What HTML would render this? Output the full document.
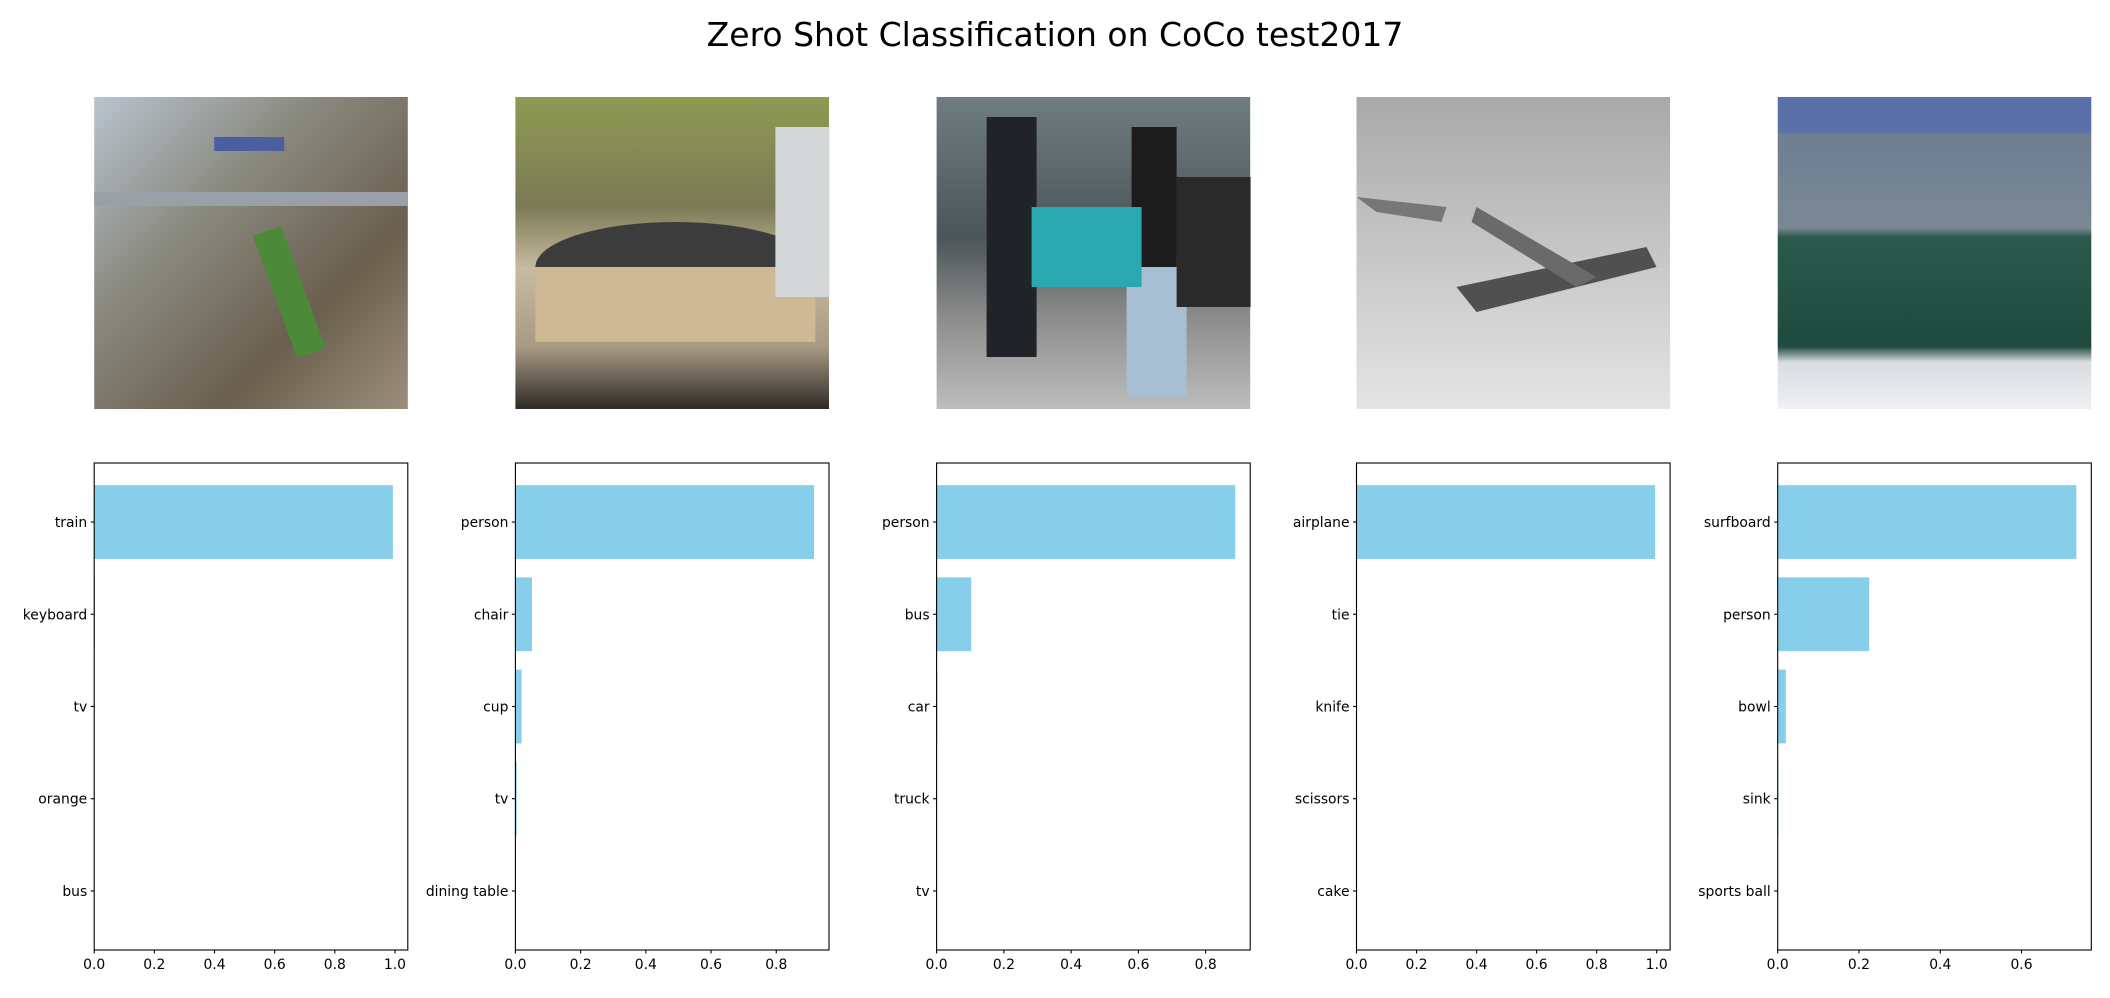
<!DOCTYPE html>
<html><head><meta charset="utf-8"><style>
body{margin:0;background:#fff;}
svg{display:block;font-family:"DejaVu Sans","Liberation Sans",sans-serif;}
</style></head><body>
<svg id="fig" width="2110" height="998" viewBox="0 0 2110 998" xmlns="http://www.w3.org/2000/svg">
<defs>
<linearGradient id="g1" x1="0" y1="0" x2="1" y2="1"><stop offset="0" stop-color="#b9c4cf"/><stop offset="0.35" stop-color="#8a8a80"/><stop offset="0.7" stop-color="#6b5f4e"/><stop offset="1" stop-color="#9b8f7c"/></linearGradient>
<linearGradient id="g2" x1="0" y1="0" x2="0" y2="1"><stop offset="0" stop-color="#8e9a52"/><stop offset="0.35" stop-color="#7b7a55"/><stop offset="0.55" stop-color="#c8bba0"/><stop offset="0.8" stop-color="#a89a82"/><stop offset="1" stop-color="#2e2a28"/></linearGradient>
<linearGradient id="g3" x1="0" y1="0" x2="0" y2="1"><stop offset="0" stop-color="#6f7d80"/><stop offset="0.45" stop-color="#4c5558"/><stop offset="0.7" stop-color="#8b8b8b"/><stop offset="1" stop-color="#bdbdbd"/></linearGradient>
<linearGradient id="g4" x1="0" y1="0" x2="0" y2="1"><stop offset="0" stop-color="#a9a9a9"/><stop offset="1" stop-color="#e4e4e4"/></linearGradient>
<linearGradient id="g5" x1="0" y1="0" x2="0" y2="1"><stop offset="0" stop-color="#5b6fa8"/><stop offset="0.11" stop-color="#5b6fa8"/><stop offset="0.12" stop-color="#6e7f92"/><stop offset="0.42" stop-color="#7a8894"/><stop offset="0.45" stop-color="#2a5a4c"/><stop offset="0.8" stop-color="#1f4a3e"/><stop offset="0.85" stop-color="#d9dde2"/><stop offset="1" stop-color="#eef0f3"/></linearGradient>
</defs>
<text x="1055" y="46" text-anchor="middle" font-size="33" fill="#000">Zero Shot Classification on CoCo test2017</text>
<g id="imgs"></g>
<g id="charts"></g>
</svg>
<script>
const labels1=["train","keyboard","tv","orange","bus"];
const values1=[0.993,0.002,0.001,0.001,0.001];
const labels2=["person","chair","cup","tv","dining table"];
const values2=[0.916,0.051,0.019,0.004,0.001];
const labels3=["person","bus","car","truck","tv"];
const values3=[0.888,0.103,0.002,0.001,0.001];
const labels4=["airplane","tie","knife","scissors","cake"];
const values4=[0.995,0.001,0.001,0.001,0.001];
const labels5=["surfboard","person","bowl","sink","sports ball"];
const values5=[0.735,0.225,0.020,0.002,0.001];
const tickStep=0.2;

const NS="http://www.w3.org/2000/svg";
const lefts=[94.2,515.4,936.6,1356.5,1777.7];
const W=313.6, TOP=463, BOT=950, ITOP=97, IBOT=409;
function mk(tag,attrs,parent){const e=document.createElementNS(NS,tag);for(const k in attrs)e.setAttribute(k,attrs[k]);parent.appendChild(e);return e;}
const imgs=document.getElementById('imgs');
const charts=document.getElementById('charts');
const grads=["g1","g2","g3","g4","g5"];
const imgNames=["train-photo","reception-photo","street-photo","airplane-photo","surfer-photo"];
lefts.forEach((L,i)=>{
  const r=mk('rect',{x:L,y:ITOP,width:W,height:IBOT-ITOP,fill:'url(#'+grads[i]+')'},imgs);
  
  
});
(function(){
  const L=lefts;
  mk('rect',{x:L[0],y:ITOP+95,width:W,height:14,fill:'#9aa0a8'},imgs);
  mk('rect',{x:L[0]+180,y:ITOP+130,width:30,height:130,fill:'#4c8a3a',transform:'rotate(-20 '+(L[0]+195)+' '+(ITOP+195)+')'},imgs);
  mk('rect',{x:L[0]+120,y:ITOP+40,width:70,height:14,fill:'#4b5fa0'},imgs);
  mk('ellipse',{cx:L[1]+160,cy:ITOP+170,rx:140,ry:45,fill:'#3c3c3c'},imgs);
  mk('rect',{x:L[1]+20,y:ITOP+170,width:280,height:75,fill:'#cdb993'},imgs);
  mk('rect',{x:L[1]+260,y:ITOP+30,width:54,height:170,fill:'#d5d8d8'},imgs);
  mk('rect',{x:L[2]+50,y:ITOP+20,width:50,height:240,fill:'#202428'},imgs);
  mk('rect',{x:L[2]+195,y:ITOP+30,width:45,height:140,fill:'#1c1c1c'},imgs);
  mk('rect',{x:L[2]+190,y:ITOP+170,width:60,height:130,fill:'#a8bfd3'},imgs);
  mk('rect',{x:L[2]+95,y:ITOP+110,width:110,height:80,fill:'#2aa8b0'},imgs);
  mk('rect',{x:L[2]+240,y:ITOP+80,width:74,height:130,fill:'#2a2a2a'},imgs);
  mk('polygon',{points:(L[3]+100)+','+(ITOP+190)+' '+(L[3]+290)+','+(ITOP+150)+' '+(L[3]+300)+','+(ITOP+170)+' '+(L[3]+120)+','+(ITOP+215),fill:'#505050'},imgs);
  mk('polygon',{points:(L[3]+120)+','+(ITOP+110)+' '+(L[3]+240)+','+(ITOP+180)+' '+(L[3]+220)+','+(ITOP+190)+' '+(L[3]+115)+','+(ITOP+125),fill:'#6a6a6a'},imgs);
  mk('polygon',{points:(L[3])+','+(ITOP+100)+' '+(L[3]+90)+','+(ITOP+110)+' '+(L[3]+85)+','+(ITOP+125)+' '+(L[3]+20)+','+(ITOP+115),fill:'#777'},imgs);
})();

const sets=[[labels1,values1],[labels2,values2],[labels3,values3],[labels4,values4],[labels5,values5]];
sets.forEach(([labs,vals],i)=>{
  const L=lefts[i];
  const g=mk('g',{},charts);
  
  
  const xmax=Math.max(...vals)*1.05;
  const n=labs.length;
  const ylo=-0.4-0.05*(n-1+0.8), yhi=(n-1)+0.4+0.05*(n-1+0.8);
  const xs=v=>L+v/xmax*W;
  const ys=k=>TOP+(k-ylo)/(yhi-ylo)*(BOT-TOP);
  vals.forEach((v,k)=>{
    const b=mk('rect',{x:xs(0),y:ys(k-0.4),width:Math.max(0,xs(v)-xs(0)),height:ys(k+0.4)-ys(k-0.4),fill:'#87ceeb'},g);
    
    
    mk('line',{x1:L-3.5,x2:L,y1:ys(k),y2:ys(k),stroke:'#000','stroke-width':1.1},g);
    const t=mk('text',{x:L-7,y:ys(k)+5,'text-anchor':'end','font-size':13.9,fill:'#000'},g);
    t.textContent=labs[k];
    
    
  });
  for(let tv=0;tv<=xmax+1e-9;tv+=tickStep){
    const x=xs(tv);
    mk('line',{x1:x,x2:x,y1:BOT,y2:BOT+3.5,stroke:'#000','stroke-width':1.1},g);
    const t=mk('text',{x:x,y:BOT+19,'text-anchor':'middle','font-size':13.9,fill:'#000'},g);
    t.textContent=tv.toFixed(1);
    
    
  }
  const f=mk('rect',{x:L,y:TOP,width:W,height:BOT-TOP,fill:'none',stroke:'#000','stroke-width':1.1},g);
  
  
});
</script>
</body></html>
